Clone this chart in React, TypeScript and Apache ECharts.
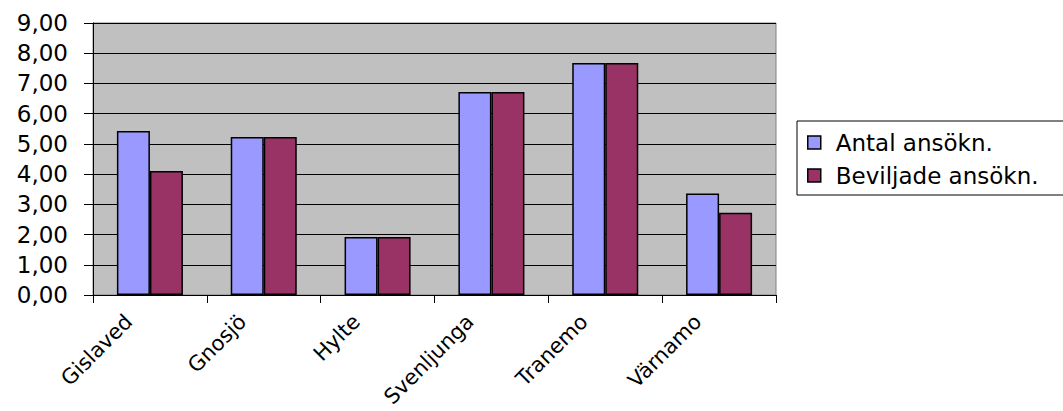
import React, { useEffect, useRef } from "react";
import * as echarts from "echarts";

const categories = ["Gislaved", "Gnosjö", "Hylte", "Svenljunga", "Tranemo", "Värnamo"];
const antalAnsokn = [5.43, 5.23, 1.92, 6.72, 7.68, 3.36];
const beviljadeAnsokn = [4.1, 5.23, 1.92, 6.72, 7.68, 2.72];
const seriesNames = ["Antal ansökn.", "Beviljade ansökn."];
const yMin = 0;
const yMax = 9;
const yStep = 1;

const FONT = "DejaVu Sans";
const FS = 23;

export default function App() {
  const ref = useRef<HTMLDivElement>(null);
  useEffect(() => {
    if (!ref.current) return;
    const chart = echarts.init(ref.current, undefined, { renderer: "svg" });
    chart.setOption({
      animation: false,
      backgroundColor: "#ffffff",
      textStyle: { fontFamily: FONT, color: "#000" },
      grid: {
        left: 93,
        right: 287,
        top: 23,
        bottom: 116,
        show: true,
        backgroundColor: "#C0C0C0",
        borderColor: "#808080",
        borderWidth: 1,
        containLabel: false,
        outerBoundsMode: "none",
      },
      graphic: [
        {
          type: "rect",
          z: 0,
          shape: { x: 797, y: 121, width: 320, height: 74 },
          style: { fill: "#fff", stroke: "#000", lineWidth: 1 },
        },
      ],
      legend: {
        orient: "vertical",
        left: 797,
        top: 121,
        padding: [10, 0, 8, 10],
        itemWidth: 13,
        itemHeight: 13,
        itemGap: 10,
        icon: "rect",
        z: 5,
        itemStyle: { borderColor: "#000", borderWidth: 1.5 },
        textStyle: { fontFamily: FONT, fontSize: FS, color: "#000", padding: [0, 0, 0, 10] },
        data: seriesNames,
      },
      xAxis: {
        type: "category",
        data: categories,
        axisLine: { show: true, lineStyle: { color: "#000", width: 1 } },
        axisTick: { show: true, length: 8, alignWithLabel: false, interval: 0, lineStyle: { color: "#000" } },
        axisLabel: {
          interval: 0,
          rotate: 45,
          margin: 2,
          padding: [0, 30, 0, 0],
          fontFamily: FONT,
          fontSize: 21,
          color: "#000",
        },
        splitLine: { show: false },
      },
      yAxis: {
        type: "value",
        min: yMin,
        max: yMax,
        interval: yStep,
        axisLine: { show: true, lineStyle: { color: "#000", width: 1 } },
        axisTick: { show: true, length: 9, inside: false, lineStyle: { color: "#000" } },
        axisLabel: {
          margin: 25,
          fontFamily: FONT,
          fontSize: FS,
          color: "#000",
          formatter: (v: number) => v.toFixed(2).replace(".", ","),
        },
        splitLine: { show: true, lineStyle: { color: "#000", width: 1 } },
      },
      series: [
        {
          name: seriesNames[0],
          type: "bar",
          data: antalAnsokn,
          barGap: "0%",
          barCategoryGap: "42%",
          itemStyle: { color: "#9999FF", borderColor: "#000", borderWidth: 1.5 },
        },
        {
          name: seriesNames[1],
          type: "bar",
          data: beviljadeAnsokn,
          barGap: "0%",
          barCategoryGap: "42%",
          itemStyle: { color: "#993366", borderColor: "#000", borderWidth: 1.5 },
        },
      ],
    });
    return () => chart.dispose();
  }, []);
  return (
    <div
      ref={ref}
      style={{ position: "fixed", left: 0, top: 0, width: 1063, height: 411 }}
    />
  );
}
